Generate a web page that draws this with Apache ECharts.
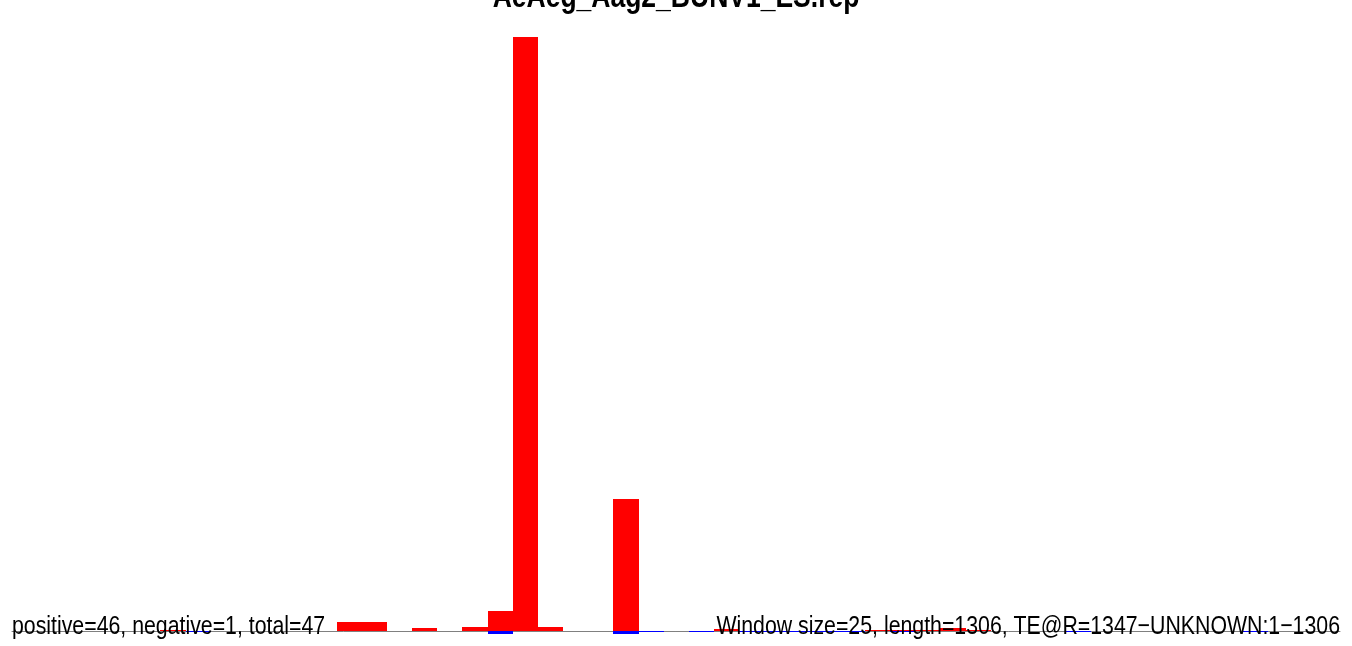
<!DOCTYPE html>
<html>
<head>
<meta charset="utf-8">
<script src="https://cdn.jsdelivr.net/npm/echarts@6/dist/echarts.min.js"></script>
<style>
html,body{margin:0;padding:0;background:#fff;}
#chart{width:1352px;height:646px;}
</style>
</head>
<body>
<div id="chart"></div>
<script>
// ---- data (values as % of the highest window) ----
const titleText = "AeAeg_Aag2_BUNV1_ES.rep";
const leftNote = "positive=46, negative=1, total=47";
const rightNote = "Window size=25, length=1306, TE@R=1347\u2212UNKNOWN:1\u22121306";
const windowSize = 25;
const seqLength = 1306;
// positive-strand windows (window index) and their values
const posWindows = [6, 13, 14, 16, 18, 19, 20, 21, 24, 28, 34, 35, 36, 37, 38];
const posValues  = [0.17, 1.5, 1.5, 0.5, 0.67, 3.4, 100, 0.67, 22.2, 0.34, 0.17, 0.17, 0.17, 0.5, 0.17];
// negative-strand windows and their values
const negWindows = [7, 19, 24, 25, 27, 29, 30, 31, 32, 33, 35, 42, 49];
const negValues  = [-0.17, -0.5, -0.5, -0.17, -0.17, -0.17, -0.17, -0.17, -0.17, -0.17, -0.17, -0.17, -0.17];

const posData = posWindows.map((w, i) => [w * windowSize, posValues[i]]);
const negData = negWindows.map((w, i) => [w * windowSize, negValues[i]]);

function renderBar(color) {
  return function (params, api) {
    const start = api.value(0);
    const v = api.value(1);
    const p1 = api.coord([start, v]);
    const p2 = api.coord([start + windowSize, 0]);
    const x0 = Math.round(Math.min(p1[0], p2[0]));
    const x1 = Math.round(Math.max(p1[0], p2[0]));
    let y0 = Math.round(Math.min(p1[1], p2[1]));
    let y1 = Math.round(Math.max(p1[1], p2[1]));
    if (y1 - y0 < 1) { if (v >= 0) { y0 = y1 - 1; } else { y1 = y0 + 1; } }
    return {
      type: 'rect',
      shape: { x: x0, y: y0, width: x1 - x0, height: y1 - y0 },
      style: { fill: color }
    };
  };
}

const chart = echarts.init(document.getElementById('chart'), null, { renderer: 'canvas' });
chart.setOption({
  backgroundColor: '#ffffff',
  animation: false,
  grid: { left: 12, right: 12, top: 37, bottom: 0 },
  xAxis: {
    type: 'value', min: 2.5, max: 1322,
    axisLine: { show: true, onZero: true, lineStyle: { color: '#808080', width: 1 } },
    axisTick: { show: false }, axisLabel: { show: false }, splitLine: { show: false }
  },
  yAxis: {
    type: 'value', min: -2.525, max: 100,
    axisLine: { show: false }, axisTick: { show: false }, axisLabel: { show: false }, splitLine: { show: false }
  },
  series: [
    { type: 'custom', name: 'positive', renderItem: renderBar('#ff0000'), data: posData, z: 3 },
    { type: 'custom', name: 'negative', renderItem: renderBar('#0000ff'), data: negData, z: 3 }
  ],
  graphic: [
    {
      type: 'text', x: 676, y: -2, scaleY: 1.25, z: 100,
      style: { text: titleText, font: 'bold 26.5px "Liberation Sans", Arial, sans-serif', fill: '#000', align: 'center', verticalAlign: 'middle' }
    },
    {
      type: 'text', x: 12, y: 627, scaleY: 1.22, z: 100,
      style: { text: leftNote, font: '21.3px "Liberation Sans", Arial, sans-serif', fill: '#000', align: 'left', verticalAlign: 'middle' }
    },
    {
      type: 'text', x: 1340, y: 627, scaleY: 1.22, z: 100,
      style: { text: rightNote, font: '21.3px "Liberation Sans", Arial, sans-serif', fill: '#000', align: 'right', verticalAlign: 'middle' }
    }
  ]
});
</script>
</body>
</html>
